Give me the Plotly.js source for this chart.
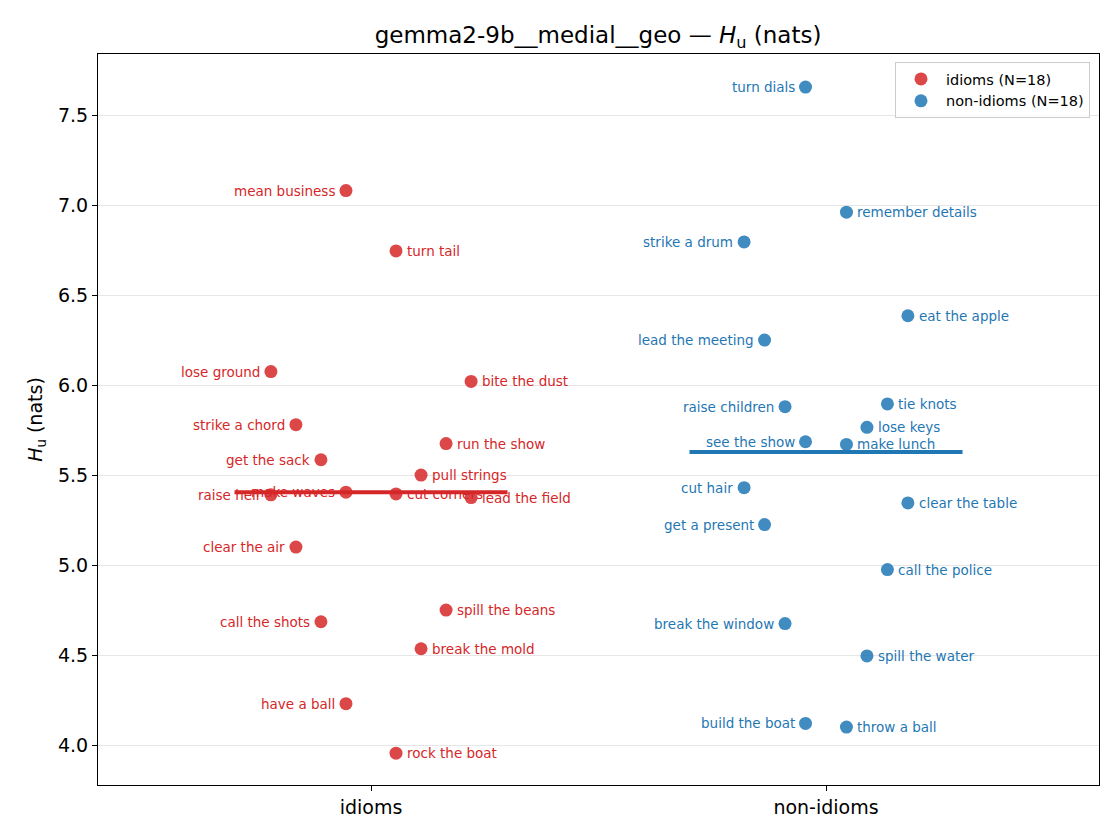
<!DOCTYPE html>
<html><head><meta charset="utf-8">
<script src="https://cdn.plot.ly/plotly-3.0.1.min.js"></script>
<style>body{margin:0;background:#fff}#c{width:1120px;height:840px}</style>
</head><body><div id="c"></div>
<script>
const categories = ["idioms", "non-idioms"];
const idiomLabels = ["mean business","turn tail","lose ground","bite the dust","strike a chord","run the show","get the sack","pull strings","raise hell","make waves","cut corners","lead the field","clear the air","spill the beans","call the shots","break the mold","have a ball","rock the boat"];
const idiomJitter = [-0.055,0.055,-0.22,0.22,-0.165,0.165,-0.11,0.11,-0.22,-0.055,0.055,0.22,-0.165,0.165,-0.11,0.11,-0.055,0.055];
const idiomValues = [7.08,6.745,6.075,6.02,5.78,5.675,5.585,5.50,5.39,5.405,5.395,5.375,5.10,4.75,4.685,4.535,4.23,3.955];
const nonLabels = ["turn dials","remember details","strike a drum","eat the apple","lead the meeting","raise children","tie knots","lose keys","see the show","make lunch","cut hair","clear the table","get a present","call the police","break the window","spill the water","build the boat","throw a ball"];
const nonJitter = [-0.045,0.045,-0.18,0.18,-0.135,-0.09,0.135,0.09,-0.045,0.045,-0.18,0.18,-0.135,0.135,-0.09,0.09,-0.045,0.045];
const nonValues = [7.655,6.96,6.795,6.385,6.25,5.88,5.895,5.765,5.685,5.67,5.43,5.345,5.225,4.975,4.675,4.495,4.12,4.10];
const yTicks = [4.0,4.5,5.0,5.5,6.0,6.5,7.0,7.5];

const RED = "#d62728", BLUE = "#1f77b4";
const FONT = "DejaVu Sans, sans-serif";
const mean = a => a.reduce((s,v)=>s+v,0)/a.length;

function group(idx, jit, vals, color, name){
  return {
    type: "scatter", mode: "markers", name: name,
    x: jit.map(j => idx + j), y: vals,
    marker: {color: color, opacity: 0.85, size: 13},
    cliponaxis: false, hoverinfo: "skip"
  };
}
function labels(idx, jit, vals, texts, color){
  return texts.map((t, i) => ({
    x: idx + jit[i], y: vals[i], xref: "x", yref: "y", text: t, showarrow: false,
    xanchor: jit[i] < 0 ? "right" : "left", yanchor: "middle",
    xshift: jit[i] < 0 ? -10 : 10, borderpad: 0,
    font: {family: FONT, size: 13.5, color: color}
  }));
}
function meanLine(idx, vals, color){
  const m = mean(vals);
  return {type:"scatter", mode:"lines", x:[idx-0.3, idx+0.3], y:[m,m],
    line:{color:color, width:4}, showlegend:false, hoverinfo:"skip"};
}

const data = [
  group(0, idiomJitter, idiomValues, RED, "idioms (N=" + idiomValues.length + ")"),
  group(1, nonJitter, nonValues, BLUE, "non-idioms (N=" + nonValues.length + ")"),
  meanLine(0, idiomValues, RED),
  meanLine(1, nonValues, BLUE)
];

const layout = {
  width: 1120, height: 840,
  margin: {l: 98, r: 21, t: 54, b: 55},
  paper_bgcolor: "#fff", plot_bgcolor: "#fff",
  font: {family: FONT, size: 19, color: "#000"},
  title: {text: "gemma2-9b__medial__geo — <i>H</i><sub>u</sub> (nats)", x: 0.534, xanchor: "center", y: 0.958, yanchor: "middle", font: {family: FONT, size: 23, color: "#000"}},
  xaxis: {range: [-0.6, 1.6], tickvals: [0,1], ticktext: categories, showgrid: false, zeroline: false,
    showline: true, linecolor: "#000", linewidth: 1, mirror: true, ticks: "outside", ticklen: 5, tickcolor: "#000",
    tickfont: {size: 19}},
  yaxis: {range: [3.778, 7.839], tickvals: yTicks, ticktext: yTicks.map(v => v.toFixed(1)), showgrid: true, gridcolor: "#e6e6e6", gridwidth: 1,
    zeroline: false, showline: true, linecolor: "#000", linewidth: 1, mirror: true, ticks: "outside", ticklen: 5, tickcolor: "#000",
    tickfont: {size: 19},
    title: {text: "<i>H</i><sub>u</sub> (nats)", font: {size: 19}, standoff: 10}},
  legend: {x: 0.991, xanchor: "right", y: 0.989, yanchor: "top", bgcolor: "rgba(255,255,255,0.8)", bordercolor: "#cccccc", borderwidth: 1,
    font: {size: 14.5}, itemwidth: 40, tracegroupgap: 0},
  annotations: labels(0, idiomJitter, idiomValues, idiomLabels, RED).concat(labels(1, nonJitter, nonValues, nonLabels, BLUE)),
  showlegend: true
};
Plotly.newPlot("c", data, layout, {displayModeBar: false, staticPlot: true});
</script></body></html>
